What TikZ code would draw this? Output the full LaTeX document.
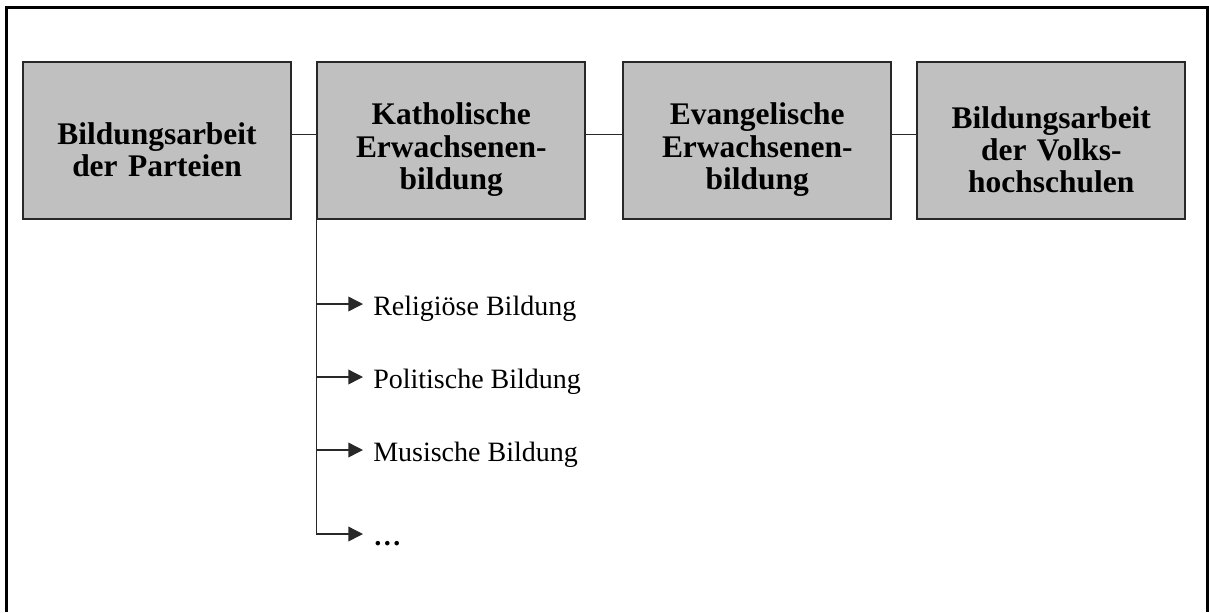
\documentclass[tikz,border=0pt]{standalone}
\usepackage{fontspec}
\setmainfont{Liberation Serif}
\usetikzlibrary{arrows.meta,positioning}
\definecolor{kastengrau}{RGB}{192,192,192}
\definecolor{liniengrau}{RGB}{40,40,40}
% Abstand oberhalb der ersten Zeile im Kasten
\newcommand{\kastenoben}{\rule{0pt}{30pt}}

\begin{document}
\begin{tikzpicture}[
x=0.75pt, y=0.75pt,
kasten/.style={
rectangle,
draw=liniengrau,
line width=1.5pt,
fill=kastengrau,
align=center,
text width=201pt,
minimum height=118.2pt,
inner sep=0pt,
font=\bfseries\fontsize{23.6}{24.2}\selectfont
},
eintrag/.style={
anchor=west,
inner xsep=7.5pt,
inner ysep=0pt,
text height=21pt,
text depth=4.5pt,
font=\fontsize{21}{25}\selectfont
},
verbinder/.style={draw=liniengrau, line width=1.1pt},
pfeil/.style={-{Triangle[length=11pt, width=11pt]}, draw=liniengrau, line width=1.1pt}
]
\useasboundingbox (0,0) rectangle (1209,-612);
\draw[line width=2.25pt] (6.7,-612) -- (6.7,-7.7) -- (1207,-7.7) -- (1207,-612);

\node[kasten, anchor=north west] (parteien) at (22,-60.7) {\kastenoben Bildungsarbeit\\der Parteien};
\node[kasten, right=18.2pt of parteien] (katholisch) {\kastenoben Katholische\\Erwachsenen-\\bildung};
\node[kasten, right=27pt of katholisch] (evangelisch) {\kastenoben Evangelische\\Erwachsenen-\\bildung};
\node[kasten, right=18pt of evangelisch] (vhs) {\kastenoben Bildungsarbeit\\der Volks-\\hochschulen};

\node[eintrag] (religioes) at (363,-304) {Religiöse Bildung};
\node[eintrag] (politisch) at (363,-377) {Politische Bildung};
\node[eintrag] (musisch) at (363,-450) {Musische Bildung};
\node[eintrag] (weitere) at (363,-534) {\bfseries\ldots};

\coordinate (ast1) at (katholisch.south west |- religioes.west);
\coordinate (ast2) at (katholisch.south west |- politisch.west);
\coordinate (ast3) at (katholisch.south west |- musisch.west);
\coordinate (ast4) at (katholisch.south west |- weitere.west);

\draw[verbinder] ([yshift=4.5pt]parteien.east) -- ([yshift=4.5pt]katholisch.west);
\draw[verbinder] ([yshift=4.5pt]katholisch.east) -- ([yshift=4.5pt]evangelisch.west);
\draw[verbinder] ([yshift=4.5pt]evangelisch.east) -- ([yshift=4.5pt]vhs.west);
\draw[verbinder] (katholisch.south west) -- (ast4);

\draw[pfeil] (ast1) -- (religioes.west);
\draw[pfeil] (ast2) -- (politisch.west);
\draw[pfeil] (ast3) -- (musisch.west);
\draw[pfeil] (ast4) -- (weitere.west);
\end{tikzpicture}
\end{document}
